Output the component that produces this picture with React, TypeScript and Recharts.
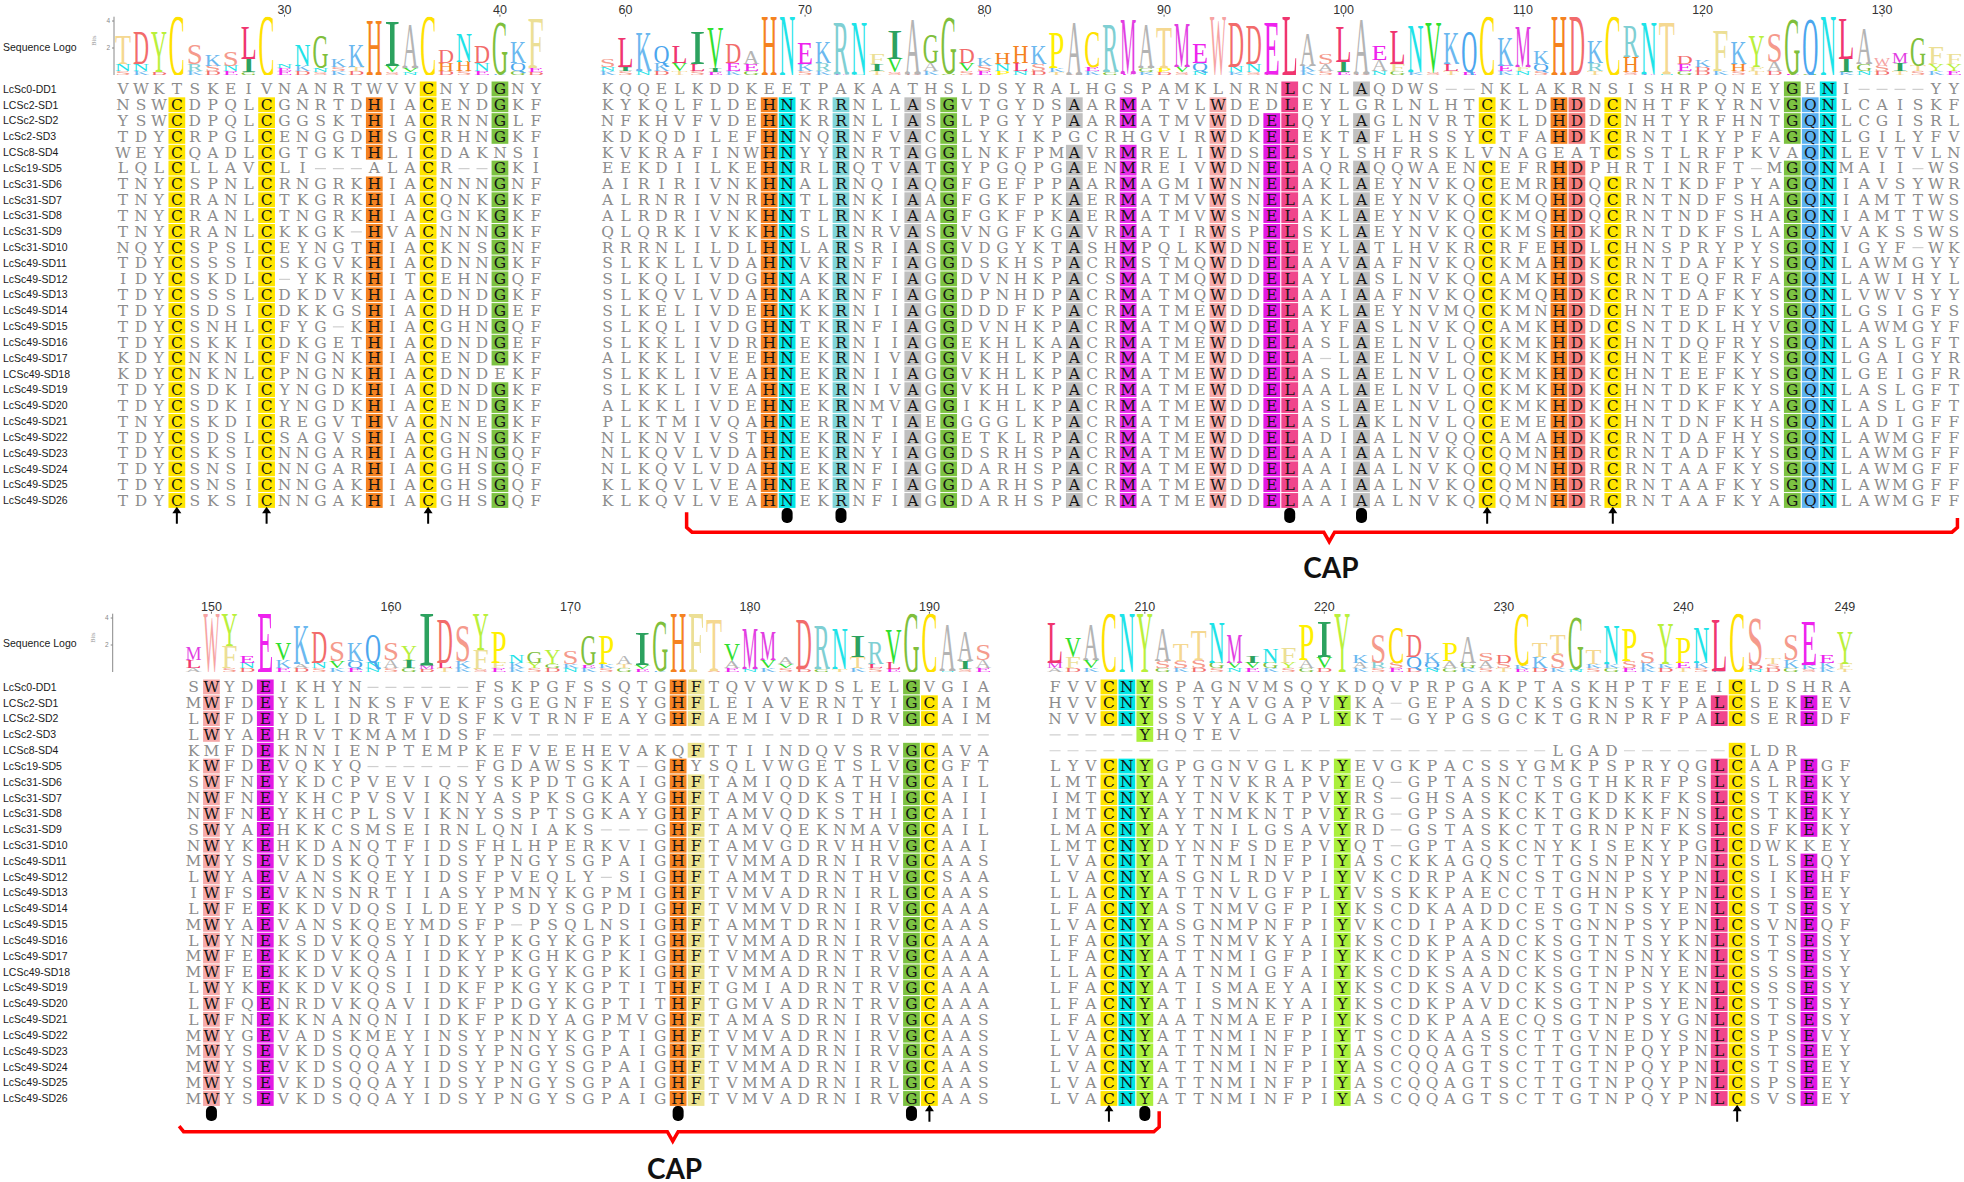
import React from 'react';
import { BarChart, Bar, ScatterChart, Scatter, XAxis, YAxis } from 'recharts';

// ---- sequence names (same order in both halves) ----
const NAMES = [
  'LcSc0-DD1', 'LCSc2-SD1', 'LCSc2-SD2', 'LcSc2-SD3', 'LCSc8-SD4', 'LcSc19-SD5', 'LcSc31-SD6',
  'LcSc31-SD7', 'LcSc31-SD8', 'LcSc31-SD9', 'LcSc31-SD10', 'LcSc49-SD11', 'LcSc49-SD12',
  'LcSc49-SD13', 'LcSc49-SD14', 'LcSc49-SD15', 'LcSc49-SD16', 'LcSc49-SD17', 'LCSc49-SD18',
  'LcSc49-SD19', 'LcSc49-SD20', 'LcSc49-SD21', 'LcSc49-SD22', 'LcSc49-SD23', 'LcSc49-SD24',
  'LcSc49-SD25', 'LcSc49-SD26',
];

// ---- block 1 (top left) ----
const B1_SEQ = [
  'VWKTSKEIVNANRTWVVCNYDGNY', 'NSWCDPQLCGNRTDHIACENDGKF', 'YSWCDPQLCGGSKTHIACRNNGLF',
  'TDYCRPGLCENGGDHSGCRHNGKF', 'WEYCQADLCGTGKTHLICDAKNSI', 'LQLCLLAVCLI---ALACR--GKI',
  'TNYCSPNLCRNGRKHIACNNNGNF', 'TNYCRANLCTKGRKHIACQNKGKF', 'TNYCRANLCTNGRKHIACGNKGKF',
  'TNYCRANLCKKGK-HVACNNNGKF', 'NQYCSPSLCEYNGTHIACKNSGNF', 'TDYCSSSICSKGVKHIACDNNGKF',
  'IDYCSKDLC-YKRKHITCEHNGQF', 'TDYCSSSLCDKDVKHIACDNDGKF', 'TDYCSDSICDKKGSHIACDHDGEF',
  'TDYCSNHLCFYG-KHIACGHNGQF', 'TDYCSKKICDKGETHIACDNDGEF', 'KDYCNKNLCFNGNKHIACENDGKF',
  'KDYCNKNLCPNGNKHIACDNDEKF', 'TDYCSDKICYNGDKHIACDNDGKF', 'TDYCSDKICYNGDKHIACENDGKF',
  'TNYCSKDICREGVTHVACNNEGKF', 'TDYCSDSLCSAGVSHIACGNSGKF', 'TDYCSKSICNNGARHIACGHNGQF',
  'TDYCSNSICNNGARHIACGHSGQF', 'TDYCSNSICNNGAKHIACGHSGQF', 'TDYCSKSICNNGAKHIACGHSGQF',
];
const B1_HL: [number, string][] = [[3, 'C'], [8, 'C'], [14, 'H'], [17, 'C'], [21, 'G']];
const B1_ARROWS = [3, 8, 17];
const B1_DOTS: number[] = [];
const B1_RULER = [30, 40];
const B1_RULER_COLS = [9, 21];
const B1_TOP = 'TDYCSKSLCNNGKKHIACDNDGKF';
const B1_TOP_H = [2.0, 2.4, 3.0, 4.3, 1.4, 0.8, 1.0, 2.4, 4.3, 0.3, 1.5, 2.4, 0.6, 1.6, 4.0, 3.3, 3.2, 4.3, 0.9, 2.0, 1.2, 3.8, 1.5, 3.6];
const B1_SUB = 'NN  RSNI EKNST VV HHN QE';
const B1_SUB_H = [0.5, 0.5, 0, 0, 0.5, 0.4, 0.4, 1.0, 0, 0.2, 0.4, 0.3, 0.3, 0.3, 0, 0.5, 0.3, 0, 0.6, 0.7, 0.6, 0, 0.6, 0.3];
const B1_BASE = 'SKD KDEG EDSKD SN DSEKGD';
const B1_BASE_H = [0.3, 0.3, 0.2, 0, 0.3, 0.3, 0.3, 0.2, 0, 0.3, 0.3, 0.2, 0.3, 0.3, 0, 0.2, 0.2, 0, 0.3, 0.3, 0.3, 0.1, 0.3, 0.2];

// ---- block 2 (top right), two halves per row ----
const B2_SEQ_A = [
  'KQQELKDDKEETPAKAATHSLDSYRALHGSPAMKLNRN', 'KYKQLFLDEHNKRRNLLASGVTGYDSAARMATVLWDED',
  'NFKHVFVDEHNKRRNLIASGLPGYYPAARMATMVWDDE', 'KDKQDILEFHNNQRNFVACGLYKIKPGCRHGVIRWDKE',
  'KVKRAFINWHNYYRNRTAGGLNKFPMAVRMRELIWDSE', 'EEKDIILKEHNRLRQTVATGYPGQPGAENMREIVWDNE',
  'AIRIRIVNKHNALRNQIAQGFGEFPPAARMAGMIWNNE', 'ALRNRIVNRHNTLRNKIAAGFGKFPKAERMATMVWSNE',
  'ALRDRIVNKHNTLRNKIAAGFGKFPKAERMATMVWSNE', 'QLQRKIVKKHNSLRNRVASGVNGFKGAVRMATIRWSPE',
  'RRRNLILDLHNLARSRIASGVDGYKTASHMPQLKWDNE', 'SLKKLLVDAHNVKRNFIAGGDSKHSPACRMSTMQWDDE',
  'SLKQLIVDGHNAKRNFIAGGDVNHKPACSMATMQWDDE', 'SLKQVLVDAHNAKRNFIAGGDPNHDPACRMATMQWDDE',
  'SLKELIVDEHNKKRNIIAGGDDDFKPACRMATMEWDDE', 'SLKQLIVDGHNTKRNFIAGGDVNHKPACRMATMQWDDE',
  'SLKKLIVDRHNEKRNIIAGGEKHLKAACRMATMEWDDE', 'ALKKLIVEEHNEKRNIVAGGVKHLKPACRMATMEWDDE',
  'SLKKLIVEAHNEKRNIIAGGVKHLKPACRMATMEWDDE', 'SLKKLIVEAHNEKRNIVAGGVKHLKPACRMATMEWDDE',
  'ALKKLIVDEHNEKRNMVAGGIKHLKPACRMATMEWDDE', 'PLKTMIVQAHNERRNTIAEGGGGLKPACRMATMEWDDE',
  'NLKNVIVSTHNEKRNFIAGGETKLRPACRMATMEWDDE', 'NLKQVLVDAHNEKRNYIAGGDSRHSPACRMATMEWDDE',
  'NLKQVLVDAHNEKRNFIAGGDARHSPACRMATMEWDDE', 'KLKQVLVEAHNEKRNFIAGGDARHSPACRMATMEWDDE',
  'KLKQVLVEAHNEKRNFIAGGDARHSPACRMATMEWDDE',
];
const B2_SEQ_B = [
  'LCNLAQDWS--NKLAKRNSISHRPQNEYGENI----YY', 'LEYLGRLNLHTCKLDHDDCNHTFKYRNVGQNLCAISKF',
  'LQYLAGLNVRTCKLDHDDCNHTYRFHNTGQNLCGISRL', 'LEKTAFLHSSYCTFAHDKCRNTIKYPFAGQNLGILYFV',
  'LSYLSHFRSKLVNAGEATCSSTLRFPKVAQNLEVTVLN', 'LAQRAQQWAENCEFRHDPHRTINRFT-MGQNMAII-WS',
  'LAKLAEYNVKQCEMRHDQCRNTKDFPYAGQNIAVSYWR', 'LAKLAEYNVKQCKMQHDQCRNTNDFSHAGQNIAMTTWS',
  'LAKLAEYNVKQCKMQHDQCRNTNDFSHAGQNIAMTTWS', 'LSKLAEYNVKQCKMSHDKCRNTDKFSLAGQNVAKSSWS',
  'LEYLATLHVKRCRFEHDLCHNSPRYPYSGQNIGYF-WK', 'LAAVAAFNVKQCKMAHDKCRNTDAFKYSGQNLAWMGYY',
  'LAYLASLNVKQCAMKHDSCRNTEQFRFAGQNLAWIHYL', 'LAAIAAFNVKQCKMQHDKCRNTDAFKYSGQNLVWVSYY',
  'LAKLAEYNVMQCKMNHDDCHNTEDFKYSGQNLGSIGFS', 'LAYFASLNVKQCAMKHDDCSNTDKLHYVGQNLAWMGYF',
  'LASLAELNVLQCKMKHDKCHNTDQFRYSGQNLASLGFT', 'LA-LAELNVLQCKMKHDKCHNTKEFKYSGQNLGAIGYR',
  'LASLAELNVLQCKMKHDKCHNTEEFKYSGQNLGEIGFR', 'LAALAELNVLQCKMKHDKCHNTDKFKYSGQNLASLGFT',
  'LASLAELNVLQCKMKHDKCHNTDKFKYAGQNLASLGFT', 'LASLAKLNVLQCEMEHDKCHNTDNFKHSGQNLADIGFF',
  'LADIAALNVQQCAMAHDKCRNTDAFHYSGQNLAWMGFF', 'LAAIAALNVKQCQMNHDRCRNTADFKYSGQNLAWMGFF',
  'LAAIAALNVKQCQMNHDRCRNTAAFKYSGQNLAWMGFF', 'LAAIAALNVKQCQMNHDRCRNTAAFKYSGQNLAWMGFF',
  'LAAIAALNVKQCQMNHDRCRNTAAFKYAGQNLAWMGFF',
];
const B2_HL: [number, string][] = [
  [9, 'H'], [10, 'N'], [13, 'R'], [17, 'A'], [19, 'G'], [26, 'A'], [29, 'M'], [34, 'W'], [37, 'E'],
  [38, 'L'], [42, 'A'], [49, 'C'], [53, 'H'], [54, 'D'], [56, 'C'], [66, 'G'], [67, 'Q'], [68, 'N'],
];
const B2_ARROWS = [49, 56];
const B2_DOTS = [10, 13, 38, 42];
const B2_RULER = [60, 70, 80, 90, 100, 110, 120, 130];
const B2_RULER_COLS = [1, 11, 21, 31, 41, 51, 61, 71];
const B2_TOP = 'SLKQLIVDAHNEKRNFIAGGDKHHKPACRMATMEWDDELASLAELNVKQCKMKHDKCRNTDKFKYSGQNLAWMGFF';
const B2_TOP_H = [
  0.6, 2.2, 2.8, 1.2, 1.2, 2.4, 3.0, 1.4, 0.9, 4.3, 4.3, 1.5, 1.5, 3.8, 3.8, 0.7, 2.0, 4.0, 2.0, 4.1,
  1.0, 0.6, 0.8, 1.2, 1.3, 2.6, 3.8, 2.6, 3.5, 4.0, 3.2, 3.0, 3.2, 1.4, 4.3, 3.3, 2.8, 3.8, 4.3, 2.4,
  0.7, 2.6, 4.0, 1.0, 2.5, 3.4, 3.6, 2.3, 3.0, 4.3, 2.0, 3.0, 0.9, 4.3, 4.3, 1.6, 4.3, 2.3, 3.8, 3.8,
  0.6, 0.5, 3.0, 1.6, 2.3, 2.0, 4.0, 4.0, 4.3, 3.0, 2.6, 0.6, 0.7, 2.0, 1.2, 0.7,
];
const B2_SUB = 'NI KVLIEE  KR  IV A VSNLSK E  GPVQ NN  KAI AF  L  EFQ  R H  ED HFA   IGSITYY';
const B2_SUB_H = [
  0.3, 0.3, 0, 0.6, 0.6, 0.5, 0.3, 0.6, 0.5, 0, 0, 0.5, 0.6, 0, 0, 0.5, 1.0, 0, 0.6, 0,
  0.6, 0.4, 0.5, 0.6, 0.5, 0.3, 0, 0.3, 0, 0, 0.3, 0.3, 0.4, 0.6, 0, 0.4, 0.6, 0, 0, 0.4,
  0.5, 0.8, 0, 0.8, 0.5, 0, 0, 0.5, 0, 0, 0.4, 0.3, 0.5, 0, 0, 0.6, 0, 1.1, 0, 0,
  0.5, 0.3, 0, 0.5, 0.3, 0.7, 0, 0, 0, 1.0, 0.5, 0.4, 0.6, 0.4, 0.5, 0.5,
];
const B2_BASE = 'KSNDTSEKGSDSKENTSDKGSEPNDTSKGEKDSNEKSDTKSEDNGKSTEDKNSGDTKSENGDKSTDEGSKNDTSKE';
const B2_BASE_H = [
  0.3, 0.3, 0.3, 0.3, 0.3, 0.3, 0.2, 0.3, 0.3, 0, 0, 0.3, 0.3, 0.1, 0.1, 0.3, 0.2, 0.1, 0.3, 0.1,
  0.3, 0.3, 0.3, 0.3, 0.3, 0.2, 0.1, 0.3, 0.2, 0.1, 0.2, 0.2, 0.2, 0.3, 0, 0.2, 0.2, 0.1, 0, 0.3,
  0.3, 0.2, 0.1, 0.3, 0.3, 0.2, 0.2, 0.3, 0.2, 0, 0.3, 0.3, 0.3, 0, 0, 0.3, 0, 0.2, 0.1, 0.1,
  0.3, 0.3, 0.3, 0.3, 0.3, 0.3, 0.1, 0.1, 0, 0.2, 0.3, 0.3, 0.3, 0.3, 0.3, 0.3,
];

// ---- block 3 (bottom left), two halves per row ----
const B3_SEQ_A = [
  'SWYDEIKHYN------FS', 'MWFDEYKLINKSFVEKFS', 'LWFDEYDLIDRTFVDSFK', 'LWYAEHRVTKMAMIDSF-',
  'KMFDEKNNIENPTEMPKE', 'KWFDEVQKYQ------FG', 'SWFNEYKDCPVEVIQSYS', 'NWFNEYKHCPVSVIKNYA',
  'NWFNEYKHCPLSVIKNYS', 'SWYAEHKKCSMSEIRNLQ', 'NWYKEHKDANQTFIDSFH', 'MWYSEVKDSKQTYIDSYP',
  'LWYAEVANSKQEYIDSFP', 'IWFSEVKNSNRTIIASYP', 'LWFEEKKDVDQSILDEYP', 'MWYAEVANSKQEYMDSFP',
  'LWYNEKSDVKQSYIDKYP', 'MWFEEKKDVKQAIIDKYP', 'MWFEEKKDVKQSIIDKYP', 'LWYKEKKDVKQSIIDKFP',
  'LWFQENRDVKQAVIDKFP', 'LWFNEKKNANQNIIDKFP', 'MWYGEVADSKMEYINSYP', 'MWYSEVKDSQQAYIDSYP',
  'MWYSEVKDSQQAYIDSYP', 'MWYSEVKDSQQAYIDSYP', 'MWYSEVKDSQQAYIDSYP',
];
const B3_SEQ_B = [
  'KPGFSSQTGHFTQVVWKDSLELGVGIA', 'GEGNFESYGHFLEIAVERNTYIGCAIM', 'VTRNFEAYGHFAEMIVDRIDRVGCAIM',
  '---------------------------', 'FVEEHEVAKQFTTIINDQVSRVGCAVA', 'DAWSSKT-GHYSQLVWGETSLVGCGFT',
  'KPDTGKAIGHFTAMIQDKATHVGCAIL', 'SPKSGKAYGHFTAMVQDKSTHIGCAII', 'SPTSGKAYGHFTAMVQDKSTHIGCAII',
  'NIAKS---GHFTAMVQEKNMAVGCAIL', 'LHPERKVIGHFTAMVGDRVHHVGCAAI', 'NGYSGPAIGHFTVMMADRNIRVGCAAS',
  'VEQLY-SIGHFTAMMTDRNTHVGCSAA', 'MNYKGPMIGHFTVMVADRNIRLGCAAS', 'SDYSGPDIGHFTVMMVDRNIRVGCAAA',
  '-PSQLNSIGHFTAMMTDRNIRVGCAAS', 'KGYKGPKIGHFTVMMADRNIRVGCAAA', 'KGHKGPKIGHFTVMMADRNTRVGCAAA',
  'KGYKGPKIGHFTVMMADRNIRVGCAAA', 'KGYKGPTITHFTGMIADRNTRVGCAAA', 'DGYKGPTITHFTGMVADRNTRVGCAAA',
  'KDYAGPMVGHFTAMASDRNIRVGCAAS', 'NNYKGPTIGHFTVMVADRNIRVGCAAS', 'NGYSGPAIGHFTVMMADRNIRVGCAAS',
  'NGYSGPAIGHFTVMMADRNIRVGCAAS', 'NGYSGPAIGHFTVMMADRNIRLGCAAS', 'NGYSGPAIGHFTVMVADRNIRVGCAAS',
];
const B3_HL: [number, string][] = [[1, 'W'], [4, 'E'], [27, 'H'], [28, 'F'], [40, 'G'], [41, 'C']];
const B3_ARROWS = [41];
const B3_DOTS = [1, 27, 40];
const B3_RULER = [150, 160, 170, 180, 190];
const B3_RULER_COLS = [1, 11, 21, 31, 41];
const B3_TOP = 'MWYEEVKDSKQSYIDSYPNGYSGPAIGHFTVMMADRNIRVGCAAS';
const B3_TOP_H = [
  0.9, 4.3, 2.4, 0.5, 4.3, 1.2, 2.8, 2.3, 1.4, 1.3, 2.0, 1.2, 1.0, 3.8, 3.2, 2.6, 2.7, 2.3, 0.6, 0.8,
  1.0, 0.9, 2.2, 2.0, 0.6, 2.4, 3.6, 4.3, 4.3, 3.8, 1.2, 3.0, 2.0, 0.5, 3.6, 3.2, 3.0, 1.5, 1.6, 2.5,
  4.3, 4.3, 3.4, 2.2, 1.1,
];
const B3_SUB = 'L FN KANVQNAIMLKFFKYGKEKTV    A VV   TLL   IA';
const B3_SUB_H = [
  0.6, 0, 1.6, 0.4, 0, 0.6, 0.3, 0.4, 0.5, 0.5, 0.4, 0.6, 0.6, 0.3, 0.4, 0.5, 1.4, 0.4, 0.4, 0.4,
  0.3, 0.3, 0.2, 0.3, 0.3, 0.3, 0, 0, 0, 0, 0.5, 0, 0.6, 0.3, 0, 0, 0, 0.8, 0.3, 0.5,
  0, 0, 0, 0.6, 0.6,
];
const B3_BASE = 'ANSDKEDSKENSGDTKSEKSDNKSGEKDTSENKSDGTKSEDKNSE';
const B3_BASE_H = [
  0.3, 0, 0.3, 0.3, 0, 0.3, 0.3, 0.3, 0.3, 0.3, 0.3, 0.3, 0.3, 0.2, 0.3, 0.3, 0.2, 0.3, 0.3, 0.3,
  0.3, 0.3, 0.3, 0.3, 0.3, 0.2, 0.1, 0, 0, 0.1, 0.3, 0.2, 0.3, 0.3, 0.2, 0.2, 0.2, 0.3, 0.3, 0.2,
  0, 0, 0.1, 0.2, 0.3,
];

// ---- block 4 (bottom right) ----
const B4_SEQ = [
  'FVVCNYSPAGNVMSQYKDQVPRPGAKPTASKHPTFEEICLDSHRA', 'HVVCNYSSTYAVGAPVYKA-GEPASDCKSGKNSKYPALCSEKEEV',
  'NVVCNYSSVYALGAPLYKT-GYPGSGCKTGRNPRFPALCSEREDF', '-----YHQTEV',
  '----------------------------LGAD------CLDR', 'LYVCNYGPGGNVGLKPYEVGKPACSSYGMKPSPRYQGLCAAPEGF',
  'LMTCNYAYTNVKRAPVYEQ-GPTASNCTSGTHKRFPSLCSLREKY', 'IMTCNYAYTNVKKTPVYRS-GHSASKCKTGKDKKFKSLCSTKEKY',
  'IMTCNYAYTNMKNTPVYRG-GPSASKCKTGKDKKFNSLCSTKEKY', 'LMACNYAYTNILGSAVYRD-GSTASKCTTGRNPNFKSLCSFKEKY',
  'LMTCNYDYNNFSDEPVYQT-GPTASKCNYKISEKYPGLCDWKKEY', 'LVACNYATTNMINFPIYASCKKAGQSCTTGSNPNYPNLCSLSEQY',
  'LVACNYASGNLRDVPIYVKCDRPAKNCSTGNNPSYPNLCSIKEHF', 'LLACNYATTNVLGFPLYVSSKKPAECCTTGHNPKYPNLCSISEEY',
  'LFACNYASTNMVGFPIYKSCDKAADDCESGTNSSYENLCSTSESY', 'LVACNYASGNMPNFPIYVKCDIPAKDCSTGNNPSYPNLCSVNEQF',
  'LFACNYASTNMVKYAIYKSCDKPAADCKSGTNTSYKNLCSTSESY', 'LFACNYATTNMIGFPIYKKCDKPASNCKSGTNSNYKNLCSTSESY',
  'LLACNYAATNMIGFAIYKSCDKSAADCKSGTNPNYENLCSSSESY', 'LFACNYATISMAEYAIYKSCDKSAVDCKSGTNPSYKNLCSSSESY',
  'LFACNYATISMNKYAIYKSCDKPAVDCKSGTNPSYENLCSTSESY', 'LFACNYAATNMAEFPIYKSCDKPAAECQSGTNPSYGNLCSTSESY',
  'LVACNYATTNMINFPIYTSCDKAASSCTTGVNEDYSNLCSPSEVY', 'LVACNYATTNMINFPIYASCQQAGTSCTTGTNPQYPNLCSTSEEY',
  'LVACNYATTNMINFPIYASCQQAGTSCTTGTNPQYPNLCSTSEEY', 'LVACNYATTNMINFPIYASCQQAGTSCTTGTNPQYPNLCSPSEEY',
  'LVACNYATTNMINFPIYASCQQAGTSCTTGTNPQYPNLCSVSEEY',
];
const B4_HL: [number, string][] = [[3, 'C'], [4, 'N'], [5, 'Y'], [16, 'Y'], [37, 'L'], [38, 'C'], [42, 'E']];
const B4_ARROWS = [3, 38];
const B4_DOTS = [5];
const B4_RULER = [210, 220, 230, 240, 249];
const B4_RULER_COLS = [5, 15, 25, 35, 44];
const B4_TOP = 'LVACNYATTNMINFPIYKSCDKPASDCTTGTNPSYPNLCSTSEEY';
const B4_TOP_H = [
  3.0, 1.4, 2.6, 4.3, 4.3, 4.3, 2.4, 1.2, 2.2, 3.0, 2.0, 0.5, 1.0, 1.1, 2.6, 2.6, 4.3, 0.6, 2.0, 2.6,
  1.6, 0.7, 1.3, 1.9, 0.6, 0.6, 3.8, 1.0, 1.4, 3.8, 1.0, 2.8, 2.4, 0.8, 3.0, 1.8, 2.6, 3.8, 4.3, 3.4,
  0.4, 1.8, 3.2, 0.6, 2.4,
];
const B4_SUB = 'MFV   SSSGVVGYAV ARSQQAGASKKS KKSKKEK  DSKKKF';
const B4_SUB_H = [
  0.4, 0.8, 0.6, 0, 0, 0, 0.5, 0.5, 0.6, 0.4, 0.4, 0.4, 0.4, 0.4, 0.6, 0.8, 0, 0.4, 0.4, 0.4,
  0.8, 0.4, 0.5, 0.4, 0.5, 0.4, 0.3, 0.8, 1.0, 0, 0.3, 0.3, 0.5, 0.4, 0.3, 0.4, 0.4, 0, 0, 0.3,
  0.3, 0.6, 0.3, 0.4, 0.4,
];
const B4_BASE = 'ADKSTEGKDSNEKSGDTKSEDNGKSTEDKNSGEKDTSKENDGSKT';
const B4_BASE_H = [
  0.3, 0.3, 0.3, 0, 0, 0, 0.3, 0.3, 0.3, 0.3, 0.3, 0.3, 0.3, 0.3, 0.3, 0.3, 0, 0.3, 0.3, 0.3,
  0.3, 0.3, 0.3, 0.3, 0.3, 0.3, 0.2, 0.3, 0.3, 0.2, 0.3, 0.3, 0.3, 0.3, 0.3, 0.3, 0.3, 0.1, 0, 0.2,
  0.3, 0.3, 0.2, 0.3, 0.2,
];

// ---- colours ----
const HL: Record<string, string> = {
  C: '#ffe500', H: '#f58220', G: '#7cc242', N: '#00e6e6', R: '#80d5d9', A: '#c0c0c0', M: '#e82ee8',
  W: '#f6a9a9', E: '#e31ae3', L: '#f0468c', D: '#f47c7c', Q: '#5cb2f2', F: '#ede491', Y: '#aaef3c',
};
const AA: Record<string, string> = {
  A: '#b4b4b4', C: '#ffe100', D: '#f26b6b', E: '#ee22ee', F: '#ecdf95', G: '#80bf3c', H: '#f58220',
  I: '#2ca25f', K: '#6bb8ef', L: '#f0356f', M: '#e23ee2', N: '#1ee3e8', P: '#fff000', Q: '#4ba6ee',
  R: '#7fcfd3', S: '#f59a8c', T: '#f5d891', V: '#2fe02f', W: '#f6a3a3', Y: '#b9f03c',
};

const COL_W = 17.95;
const ROW_H = 15.83;
const BIT_MAX = 4.32;
const LOGO_AXIS_H = 14.7;
const LOGO_H = 58.3;
const Y_MAX = 31.2;
const SANS = "'Liberation Sans', Arial, sans-serif";
const MONO = "'DejaVu Serif', serif";
const LOGO_FONT = "'Liberation Serif', serif";

type Block = {
  seqs: string[]; offset: number; width: number; hl: [number, string][];
  arrows: number[]; dots: number[]; ruler: number[]; rulerCols: number[];
  top: string; topH: number[]; sub: string; subH: number[]; base: string; baseH: number[];
};

const join = (a: string[], b: string[]) => a.map((s, i) => s + b[i]);

const TOP_BLOCKS: Block[] = [
  { seqs: B1_SEQ, offset: 0, width: 24, hl: B1_HL, arrows: B1_ARROWS, dots: B1_DOTS, ruler: B1_RULER, rulerCols: B1_RULER_COLS,
    top: B1_TOP, topH: B1_TOP_H, sub: B1_SUB, subH: B1_SUB_H, base: B1_BASE, baseH: B1_BASE_H },
  { seqs: join(B2_SEQ_A, B2_SEQ_B), offset: 27, width: 76, hl: B2_HL, arrows: B2_ARROWS, dots: B2_DOTS, ruler: B2_RULER, rulerCols: B2_RULER_COLS,
    top: B2_TOP, topH: B2_TOP_H, sub: B2_SUB, subH: B2_SUB_H, base: B2_BASE, baseH: B2_BASE_H },
];
const BOTTOM_BLOCKS: Block[] = [
  { seqs: join(B3_SEQ_A, B3_SEQ_B), offset: 4, width: 45, hl: B3_HL, arrows: B3_ARROWS, dots: B3_DOTS, ruler: B3_RULER, rulerCols: B3_RULER_COLS,
    top: B3_TOP, topH: B3_TOP_H, sub: B3_SUB, subH: B3_SUB_H, base: B3_BASE, baseH: B3_BASE_H },
  { seqs: B4_SEQ, offset: 52, width: 45, hl: B4_HL, arrows: B4_ARROWS, dots: B4_DOTS, ruler: B4_RULER, rulerCols: B4_RULER_COLS,
    top: B4_TOP, topH: B4_TOP_H, sub: B4_SUB, subH: B4_SUB_H, base: B4_BASE, baseH: B4_BASE_H },
];

// CAP brackets, in (column, row) units of each half
const TOP_BRACKET = [
  { x: 31.4, y: 26.75 }, { x: 31.4, y: 27.7 }, { x: 31.7, y: 28.0 }, { x: 66.9, y: 28.0 }, { x: 67.2, y: 28.6 },
  { x: 67.5, y: 28.0 }, { x: 101.9, y: 28.0 }, { x: 102.2, y: 27.7 }, { x: 102.2, y: 27.1 },
];
const BOTTOM_BRACKET = [
  { x: 3.2, y: 27.75 }, { x: 3.45, y: 28.1 }, { x: 30.4, y: 28.1 }, { x: 30.7, y: 28.7 }, { x: 31.0, y: 28.1 },
  { x: 57.5, y: 28.1 }, { x: 57.8, y: 27.8 }, { x: 57.8, y: 26.8 },
];
const TOP_CAP = { x: 67.3, y: 30.2, text: 'CAP' };
const BOTTOM_CAP = { x: 30.8, y: 30.4, text: 'CAP' };

function buildCells(blocks: Block[]) {
  const out: any[] = [];
  blocks.forEach((b) => b.seqs.forEach((s, r) => {
    for (let c = 0; c < b.width; c++) {
      const ch = s[c] ?? ' ';
      if (ch === ' ') continue;
      const hit = b.hl.find((h) => h[0] === c && h[1] === ch);
      out.push({ x: b.offset + c, y: r, ch, bg: hit ? HL[ch] : null });
    }
  }));
  return out;
}

function buildLogo(blocks: Block[], n: number) {
  const rows = Array.from({ length: n }, (_, i) => ({ i, l0: '', h0: 0, l1: '', h1: 0, l2: '', h2: 0 }));
  blocks.forEach((b) => {
    for (let c = 0; c < b.width; c++) {
      const row = rows[b.offset + c];
      row.l0 = b.top[c]; row.h0 = b.topH[c] ?? 0;
      row.l1 = b.sub[c] ?? ' '; row.h1 = b.subH[c] ?? 0;
      row.l2 = b.base[c] ?? ' '; row.h2 = b.baseH[c] ?? 0;
    }
  });
  return rows;
}

function buildMarks(blocks: Block[]) {
  const out: any[] = [];
  blocks.forEach((b) => {
    b.arrows.forEach((c) => out.push({ x: b.offset + c, y: 26.9, kind: 'arrow' }));
    b.dots.forEach((c) => out.push({ x: b.offset + c, y: 26.95, kind: 'dot' }));
  });
  return out;
}

function buildRuler(blocks: Block[]) {
  const labels: Record<number, string> = {};
  blocks.forEach((b) => b.rulerCols.forEach((c, k) => { labels[b.offset + c] = String(b.ruler[k]); }));
  return labels;
}

const letterShape = (level: number) => (p: any) => {
  const d = p.payload ?? {};
  const ch = d[`l${level}`];
  if (!ch || ch === ' ' || !(p.height > 0.4)) return <g />;
  const sy = p.height / 65.5;
  return (
    <text
      transform={`translate(${p.x},${p.y + p.height}) scale(1,${sy})`}
      fontSize={100}
      fontFamily={LOGO_FONT}
      textLength={p.width}
      lengthAdjust="spacingAndGlyphs"
      fill={AA[ch] || '#999'}
    >
      {ch}
    </text>
  );
};

const cellShape = (p: any) => {
  const d = p.payload ?? p;
  const { cx, cy } = p;
  if (d.ch === '-') {
    return <line x1={cx - 5.5} x2={cx + 5.5} y1={cy + 0.5} y2={cy + 0.5} stroke="#cfcfcf" strokeWidth={1.2} />;
  }
  return (
    <g>
      {d.bg && <rect x={cx - COL_W / 2 + 0.6} y={cy - ROW_H / 2 + 0.5} width={COL_W - 1.2} height={ROW_H - 1} fill={d.bg} />}
      <text x={cx} y={cy + 5.4} textAnchor="middle" fontSize={15.5} fontFamily={MONO} fill={d.bg ? '#141414' : '#8c8c8c'}>
        {d.ch}
      </text>
    </g>
  );
};

const markShape = (p: any) => {
  const d = p.payload ?? p;
  const { cx, cy } = p;
  if (d.kind === 'dot') {
    return <rect x={cx - 5.5} y={cy - 7.5} width={11} height={15} rx={5} fill="#000" />;
  }
  return (
    <g>
      <path d={`M${cx},${cy - 8} L${cx + 4.5},${cy - 1.5} L${cx - 4.5},${cy - 1.5} Z`} fill="#000" />
      <rect x={cx - 1} y={cy - 2} width={2} height={11} fill="#000" />
    </g>
  );
};

const capShape = (p: any) => {
  const d = p.payload ?? p;
  return (
    <text x={p.cx} y={p.cy} textAnchor="middle" dominantBaseline="central" fontSize={28} fontWeight={700} fontFamily="Lato, 'Open Sans', sans-serif" fill="#111">
      {d.text}
    </text>
  );
};

const emptyShape = () => <g />;

const NameTick = ({ y, payload }: any) => (
  <text x={3} y={y} dy={3.8} fontSize={10.5} fontFamily={SANS} fill="#1a1a1a">
    {NAMES[payload.value]}
  </text>
);

const ROW_IDX = NAMES.map((_, i) => i);

type HalfProps = {
  blocks: Block[]; n: number; plotLeft: number; logoTop: number; rowZero: number;
  bracket: { x: number; y: number }[]; cap: { x: number; y: number; text: string };
};

const Half: React.FC<HalfProps> = ({ blocks, n, plotLeft, logoTop, rowZero, bracket, cap }) => {
  const right = 1964 - plotLeft - n * COL_W;
  const logo = buildLogo(blocks, n);
  const cells = buildCells(blocks);
  const marks = buildMarks(blocks);
  const labels = buildRuler(blocks);
  const tickCols = Object.keys(labels).map(Number);
  const alignTop = rowZero - ROW_H / 2;
  const alignH = (Y_MAX + 0.5) * ROW_H;
  return (
    <>
      <div style={{ position: 'absolute', left: 0, top: logoTop }}>
        <BarChart width={1964} height={LOGO_AXIS_H + LOGO_H} data={logo}
          margin={{ top: 0, right, bottom: 0, left: plotLeft - 20 }} barCategoryGap={1}>
          <XAxis dataKey="i" orientation="top" height={LOGO_AXIS_H} ticks={tickCols} interval={0}
            tickFormatter={(v: any) => labels[v] ?? ''} axisLine={false} tickSize={2} tickMargin={1}
            tick={{ fontSize: 12.5, fill: '#333', fontFamily: SANS }} tickLine={{ stroke: '#666' }} />
          <YAxis width={20} type="number" domain={[0, BIT_MAX]} ticks={[0, 2, 4]} allowDataOverflow tickSize={2}
            tick={{ fontSize: 6.5, fill: '#888', fontFamily: SANS }} axisLine={{ stroke: '#888' }} tickLine={{ stroke: '#888' }}
            label={{ value: 'Bits', angle: -90, position: 'insideLeft', offset: 0, fontSize: 6.5, fill: '#999' }} />
          <Bar dataKey="h2" stackId="s" shape={letterShape(2)} isAnimationActive={false} />
          <Bar dataKey="h1" stackId="s" shape={letterShape(1)} isAnimationActive={false} />
          <Bar dataKey="h0" stackId="s" shape={letterShape(0)} isAnimationActive={false} />
        </BarChart>
      </div>
      <div style={{ position: 'absolute', left: 0, top: alignTop }}>
        <ScatterChart width={1964} height={alignH} margin={{ top: 0, right, bottom: 0, left: 0 }}>
          <XAxis type="number" dataKey="x" domain={[-0.5, n - 0.5]} hide allowDataOverflow />
          <YAxis type="number" dataKey="y" domain={[-0.5, Y_MAX]} reversed width={plotLeft} ticks={ROW_IDX} interval={0}
            tick={(tp: any) => <NameTick {...tp} />} axisLine={false} tickLine={false} allowDataOverflow />
          <Scatter data={cells} shape={cellShape} isAnimationActive={false} />
          <Scatter data={marks} shape={markShape} isAnimationActive={false} />
          <Scatter data={bracket} line={{ stroke: '#ff0000', strokeWidth: 3.5 }} lineType="joint" shape={emptyShape} isAnimationActive={false} />
          <Scatter data={[cap]} shape={capShape} isAnimationActive={false} />
        </ScatterChart>
      </div>
    </>
  );
};

const labelStyle: React.CSSProperties = {
  position: 'absolute', left: 3, fontSize: 10.5, fontFamily: SANS, color: '#1a1a1a', lineHeight: '12px',
};

export default function App() {
  return (
    <div style={{ position: 'absolute', left: 0, top: 0, width: 1964, height: 1182, background: '#fff', overflow: 'hidden' }}>
      <div style={{ ...labelStyle, top: 41 }}>Sequence Logo</div>
      <div style={{ ...labelStyle, top: 637 }}>Sequence Logo</div>
      <Half blocks={TOP_BLOCKS} n={103} plotLeft={114} logoTop={2} rowZero={88.5} bracket={TOP_BRACKET} cap={TOP_CAP} />
      <Half blocks={BOTTOM_BLOCKS} n={97} plotLeft={112.7} logoTop={599} rowZero={687} bracket={BOTTOM_BRACKET} cap={BOTTOM_CAP} />
    </div>
  );
}
